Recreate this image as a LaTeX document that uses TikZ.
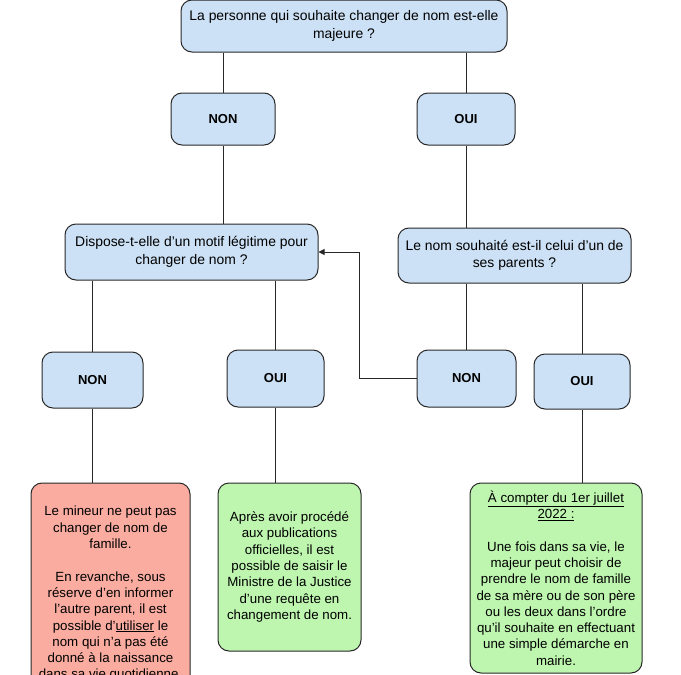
\documentclass[tikz,border=0pt]{standalone}
\usepackage{fontspec}
\setmainfont{Liberation Sans}
\usetikzlibrary{arrows.meta}

\definecolor{qblue}{RGB}{204,225,245}
\definecolor{nored}{RGB}{250,172,160}
\definecolor{yesgreen}{RGB}{190,246,176}
\definecolor{edge}{RGB}{40,40,40}

\tikzset{
  box/.style={draw=edge, line width=1pt, rounded corners=11pt, align=center,
    inner sep=2pt, font=\fontsize{13.3}{16.3}\selectfont},
  qbox/.style={box, fill=qblue, font=\fontsize{13.9}{17.5}\selectfont},
  answer/.style={box, fill=qblue, font=\fontsize{13}{16.3}\selectfont\bfseries},
  redbox/.style={box, fill=nored},
  greenbox/.style={box, fill=yesgreen},
  link/.style={draw=edge, line width=0.9pt}
}

\begin{document}
\begin{tikzpicture}[x=1pt,y=-1pt]

          \useasboundingbox (0,0) rectangle (681,675);
          \fill[white] (0,0) rectangle (681,675);

          % questions
          \node[qbox, minimum width=326pt, minimum height=52pt] (top) at (344,26)
            {La personne qui souhaite changer de nom est-elle\\ majeure ?};
          \node[qbox, minimum width=253pt, minimum height=56pt] (q2) at (191.5,252)
            {Dispose-t-elle d'un motif légitime pour\\ changer de nom ?};
          \node[qbox, minimum width=233pt, minimum height=55pt] (q3) at (514.5,255.5)
            {Le nom souhaité est-il celui d'un de\\ ses parents ?};

          % answers
          \node[answer, minimum width=104pt, minimum height=52pt] (non1) at (223,119) {NON};
          \node[answer, minimum width=98pt, minimum height=52pt] (oui1) at (466,119) {OUI};
          \node[answer, minimum width=101pt, minimum height=56pt] (non2) at (92.5,380) {NON};
          \node[answer, minimum width=97pt, minimum height=57pt] (oui2) at (275.5,378.5) {OUI};
          \node[answer, minimum width=99pt, minimum height=57pt] (non3) at (466.5,378.5) {NON};
          \node[answer, minimum width=96pt, minimum height=55pt] (oui3) at (582,381.5) {OUI};

          % results
          \node[redbox, minimum width=159pt, minimum height=222pt] (red) at (110.5,594)
            {Le mineur ne peut pas\\ changer de nom de\\ famille.\\[16.3pt]
             En revanche, sous\\ réserve d'en informer\\ l'autre parent, il est\\
             possible d'\underline{utiliser} le\\ nom qui n'a pas été\\
             donné à la naissance\\ dans sa vie quotidienne.};
          \node[greenbox, minimum width=143pt, minimum height=168pt] (green1) at (289.5,567)
            {Après avoir procédé\\ aux publications\\ officielles, il est\\
             possible de saisir le\\ Ministre de la Justice\\ d'une requête en\\
             changement de nom.};
          \node[greenbox, minimum width=172pt, minimum height=190pt] (green2) at (556,578)
            {\underline{À compter du 1er juillet}\\ \underline{2022 :}\\[16.3pt]
             Une fois dans sa vie, le\\ majeur peut choisir de\\
             prendre le nom de famille\\ de sa mère ou de son père\\
             ou les deux dans l'ordre\\ qu'il souhaite en effectuant\\
             une simple démarche en\\ mairie.};

          % connectors
          \foreach \a/\b in {top/non1, top/oui1, q2/non2, q2/oui2, q3/non3, q3/oui3}
          {
            \draw[link] (\a.south -| \b.north) -- (\b.north);
          }
          \foreach \a/\b in {non1/q2, oui1/q3, non2/red, oui2/green1, oui3/green2}
          {
            \draw[link] (\a.south) -- (\a.south |- \b.north);
          }
          \draw[link, -{Triangle[length=6pt,width=6pt]}] (non3.west) -- ++(-57,0) |- (q2.east);

         \end{tikzpicture}
\end{document}
